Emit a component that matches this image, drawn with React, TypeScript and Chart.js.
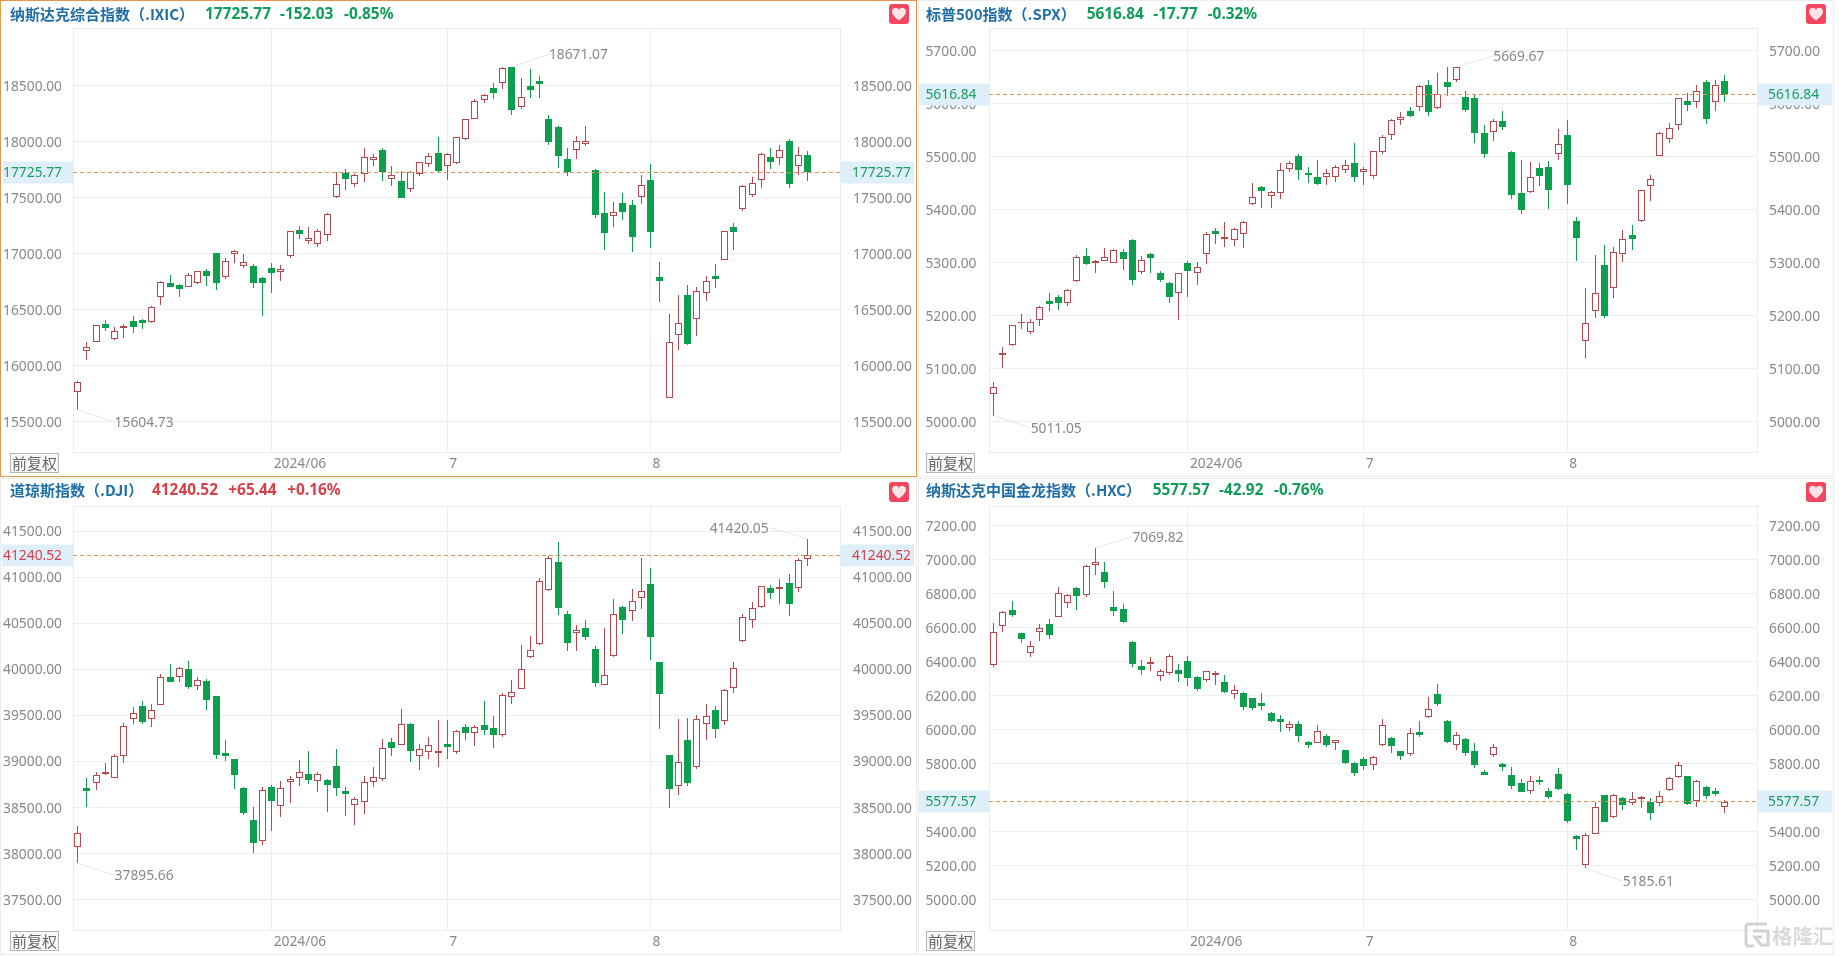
import React, { useEffect, useRef } from "react";
import { Chart, registerables } from "chart.js";

Chart.register(...registerables);

const SLOT_COUNT = 83;
const monthTickSlots: Record<number, string> = { 21: "2024/06", 40: "7", 62: "8" };
const slotLabels = Array.from({ length: SLOT_COUNT }, (_, i) => monthTickSlots[i] ?? "");

const ixicOpen = [15762,16134,16214,16369,16235,16333,16396,16405,16393,16610,16741,16717,16705,16741,16842,17003,16795,16994,16887,16890,16783,16869,16833,16982,17208,17116,17089,17164,17506,17723,17625,17708,17839,17926,17670,17646,17580,17711,17798,17896,17780,17813,18021,18205,18375,18476,18521,18667,18313,18494,18542,18199,18131,17842,17929,17982,17747,17360,17339,17449,17435,17503,17658,16792,15714,16271,16631,16414,16646,16801,16946,17238,17396,17521,17655,17860,17851,18006,17780,17878];
const ixicClose = [15851,16164,16363,16333,16307,16351,16348,16384,16521,16750,16705,16688,16807,16842,16804,16741,16932,17027,16929,16741,16741,16830,16860,17199,17176,17137,17202,17351,17619,17670,17699,17860,17866,17726,17699,17500,17726,17815,17869,17738,17890,18042,18199,18360,18414,18435,18655,18286,18402,18464,18518,17997,17875,17726,18009,18003,17345,17188,17369,17372,17149,17610,17193,16756,16208,16378,16193,16664,16753,16777,17199,17196,17601,17634,17887,17821,17923,17625,17884,17725.77];
const ixicHigh = [15866,16211,16366,16405,16348,16372,16440,16414,16530,16759,16807,16726,16827,16848,16860,17003,16958,17036,16994,16905,16795,16914,16896,17205,17244,17238,17217,17360,17732,17753,17711,17943,17890,17940,17786,17735,17741,17821,17896,18039,17902,18045,18202,18378,18426,18521,18664,18671.07,18568,18646,18583,18235,18137,17940,18051,18140,17756,17548,17461,17539,17476,17699,17801,16929,16461,16631,16717,16699,16798,16905,17205,17271,17610,17682,17896,17940,17967,18021,17952,17914];
const ixicLow = [15604.73,16054,16208,16312,16229,16250,16295,16327,16384,16545,16699,16616,16699,16726,16714,16679,16777,16920,16875,16696,16446,16652,16755,16964,17128,17089,17063,17116,17494,17568,17598,17640,17783,17649,17604,17494,17551,17693,17771,17729,17661,17804,18015,18199,18348,18381,18473,18241,18295,18390,18390,17973,17768,17696,17848,17961,17321,17036,17241,17301,17018,17446,17051,16568,15708,16143,16188,16265,16577,16693,16940,17033,17381,17509,17589,17756,17792,17589,17705,17651];

const spxOpen = [5052,5125,5144,5186,5170,5191,5227,5235,5223,5265,5312,5300,5304,5300,5321,5343,5283,5317,5280,5261,5243,5299,5280,5316,5360,5344,5342,5355,5410,5443,5425,5432,5477,5501,5469,5461,5462,5462,5475,5489,5472,5463,5508,5540,5570,5586,5593,5636,5592,5640,5645,5612,5610,5544,5546,5567,5508,5431,5433,5478,5481,5506,5540,5378,5153,5208,5295,5253,5316,5353,5378,5444,5502,5533,5559,5605,5604,5641,5604,5643];
const spxClose = [5066,5129,5182,5189,5189,5216,5222,5223,5248,5310,5297,5304,5310,5323,5307,5267,5306,5308,5267,5235,5280,5285,5292,5355,5355,5348,5363,5376,5423,5435,5433,5474,5489,5474,5465,5448,5470,5480,5484,5462,5476,5510,5538,5569,5575,5577,5634,5585,5618,5632,5669,5589,5545,5505,5567,5556,5428,5399,5461,5464,5438,5523,5447,5347,5187,5242,5199,5321,5345,5345,5437,5457,5544,5555,5610,5598,5623,5572,5636,5616.84];
const spxHigh = [5075,5141,5183,5203,5193,5218,5243,5239,5251,5314,5328,5306,5328,5325,5325,5344,5313,5318,5284,5264,5281,5304,5301,5357,5365,5377,5366,5378,5450,5445,5435,5489,5491,5506,5480,5494,5476,5484,5493,5526,5481,5511,5541,5572,5585,5593,5636,5645,5657,5669,5669.67,5624,5617,5559,5572,5587,5510,5494,5490,5489,5491,5553,5569,5386,5252,5314,5333,5329,5362,5372,5438,5465,5546,5563,5611,5621,5635,5644,5644,5654];
const spxLow = [5011.05,5101,5143,5175,5166,5181,5209,5211,5218,5264,5296,5281,5303,5299,5287,5258,5279,5281,5264,5223,5192,5235,5258,5298,5336,5330,5332,5328,5409,5403,5404,5421,5472,5456,5451,5447,5447,5453,5469,5453,5447,5458,5506,5532,5560,5575,5587,5577,5590,5615,5640,5585,5525,5498,5530,5551,5421,5392,5431,5445,5401,5494,5411,5304,5121,5195,5196,5234,5302,5324,5377,5416,5501,5526,5550,5586,5592,5562,5586,5603];

const djiOpen = [38076,38718,38772,38866,38823,39065,39467,39598,39467,39616,39913,39913,40000,39815,39870,39710,39098,39033,38717,38370,38141,38724,38522,38783,38826,38870,38793,38801,38957,38685,38533,38565,38783,38812,39217,39181,39406,39065,39109,39098,39196,39102,39370,39315,39402,39359,39283,39696,39790,40138,40272,40866,41163,40598,40399,40446,40217,39833,40141,40674,40630,40772,40928,40080,39069,38739,39239,38942,39409,39565,39442,39804,40304,40533,40674,40881,40873,40938,40880,41199];
const djiClose = [38228,38681,38859,38891,39065,39391,39522,39431,39565,39913,39866,40011,39808,39881,39670,39072,39062,38855,38442,38116,38695,38572,38717,38812,38888,38801,38866,38750,38718,38649,38598,38783,38837,39142,39152,39413,39116,39134,39178,39116,39160,39333,39315,39377,39344,39290,39728,39757,40007,40214,40957,41206,40670,40290,40424,40352,39855,39942,40598,40540,40746,40848,40355,39736,38703,38996,38765,39457,39496,39355,39772,40011,40565,40663,40902,40833,40895,40710,41184,41240.52];
const djiHigh = [38304,38819,38891,38982,39087,39424,39594,39656,39620,39946,40058,40025,40090,39913,39895,39714,39232,39033,38721,38504,38724,38746,38793,38844,39014,39112,38891,38808,39134,38721,38612,38848,38946,39243,39257,39576,39424,39192,39265,39446,39446,39344,39413,39399,39659,39500,39743,39881,40261,40359,40993,41232,41384,40630,40482,40536,40257,40449,40764,40685,40870,41210,41101,40080,39069,39460,39478,39504,39630,39598,39786,40080,40598,40732,40910,40913,40986,41036,41210,41420.05];
const djiLow = [37895.66,38511,38689,38852,38816,38982,39406,39409,39377,39609,39859,39866,39790,39779,39562,39029,39004,38703,38420,38004,38094,38246,38395,38551,38732,38757,38670,38453,38631,38410,38308,38431,38725,38786,39062,39181,38996,38906,39033,38942,39029,39080,39236,39167,39283,39149,39265,39627,39783,40127,40265,40855,40594,40203,40203,40323,39812,39826,40134,40388,40529,40652,40105,39355,38497,38638,38739,38917,39236,39257,39402,39739,40301,40453,40670,40761,40710,40580,40844,41127];

const hxcOpen = [6382,6612,6704,6569,6453,6577,6622,6665,6747,6833,6790,6971,6925,6719,6708,6516,6373,6384,6318,6331,6349,6402,6310,6290,6324,6278,6212,6214,6184,6155,6098,6063,6012,6031,5927,5924,5961,5924,5878,5802,5825,5794,5912,5951,5873,5859,5984,6076,6208,6051,5908,5943,5873,5751,5853,5800,5731,5684,5641,5704,5637,5737,5622,5375,5206,5388,5614,5488,5596,5567,5590,5577,5567,5643,5724,5726,5578,5661,5639,5547];
const hxcClose = [6573,6690,6676,6534,6490,6596,6559,6802,6792,6788,6961,6984,6870,6700,6633,6388,6353,6396,6343,6431,6329,6304,6241,6343,6335,6224,6235,6135,6129,6139,6053,6045,6033,5965,5910,5990,5910,5937,5806,5745,5788,5837,6029,5906,5845,5982,5969,6120,6153,5929,5971,5863,5792,5735,5896,5782,5671,5635,5700,5690,5606,5653,5465,5359,5378,5543,5457,5614,5559,5590,5602,5512,5608,5714,5790,5561,5696,5608,5624,5577.57];
const hxcHigh = [6627,6696,6757,6571,6520,6622,6649,6841,6798,6839,6969,7069.82,6986,6814,6737,6520,6408,6427,6359,6445,6384,6433,6314,6347,6347,6320,6261,6220,6188,6214,6102,6084,6051,6049,5931,6027,5973,5941,5880,5808,5839,5843,6063,5957,5875,6008,6049,6190,6269,6055,5984,5951,5920,5763,5914,5806,5778,5712,5726,5726,5657,5773,5625,5378,5394,5575,5618,5622,5602,5633,5608,5596,5641,5720,5808,5726,5702,5667,5655,5588];
const hxcLow = [6369,6575,6661,6510,6427,6522,6534,6661,6716,6704,6780,6912,6833,6671,6630,6371,6324,6347,6288,6324,6282,6259,6229,6278,6265,6214,6182,6114,6114,6118,6047,5988,5990,5929,5894,5922,5900,5880,5800,5729,5765,5763,5906,5865,5822,5845,5959,6071,6139,5924,5882,5847,5776,5731,5837,5759,5653,5633,5624,5673,5590,5647,5449,5294,5185.61,5384,5455,5478,5527,5559,5539,5469,5553,5641,5716,5555,5547,5590,5608,5510];

const ixicTicks = [15500,16000,16500,17000,17500,18000,18500];
const spxTicks = [5000,5100,5200,5300,5400,5500,5600,5700];
const djiTicks = [37500,38000,38500,39000,39500,40000,40500,41000,41500];
const hxcTicks = [5000,5200,5400,5800,6000,6200,6400,6600,6800,7000,7200];

const RED = "#b5494f";
const GREEN = "#0e9f4e";
const TICK_FONT = { family: '"Noto Sans", sans-serif', size: 13.8 };

type Note = { index: number; value: number; dx: number; dy: number };
type PanelDef = {
  name: string; price: string; change: string; pct: string; up: boolean;
  last: number;
  open: number[]; high: number[]; low: number[]; close: number[];
  ticks: number[]; min: number; max: number;
  notes: Note[];
  frame: { x: number; y: number; w: number; h: number };
  plot: { left: number; right: number; top: number; bottom: number };
  leftPad: number; rightPad: number; clipLeft: boolean;
  titleX: number; priceX: number; changeX: number; pctX: number;
  tagLeft: number; tagRight: number; headerY: number;
};

const panels: PanelDef[] = [
  {
    name: "纳斯达克综合指数（.IXIC）", price: "17725.77", change: "-152.03", pct: "-0.85%", up: false, last: 17725.77,
    open: ixicOpen, high: ixicHigh, low: ixicLow, close: ixicClose,
    ticks: ixicTicks, min: 15229.5, max: 19015,
    notes: [{ index: 0, value: 15604.73, dx: 37, dy: 12 }, { index: 47, value: 18671.07, dx: 37, dy: -12 }],
    frame: { x: 0, y: 0, w: 917, h: 477 }, plot: { left: 73, right: 840, top: 28, bottom: 452 },
    leftPad: 11, rightPad: 13, clipLeft: true,
    titleX: 10, priceX: 205, changeX: 280, pctX: 344, tagLeft: 3, tagRight: 914, headerY: 4,
  },
  {
    name: "标普500指数（.SPX）", price: "5616.84", change: "-17.77", pct: "-0.32%", up: false, last: 5616.84,
    open: spxOpen, high: spxHigh, low: spxLow, close: spxClose,
    ticks: spxTicks, min: 4942.8, max: 5742.8,
    notes: [{ index: 0, value: 5011.05, dx: 37, dy: 12 }, { index: 50, value: 5669.67, dx: 37, dy: -11 }],
    frame: { x: 918, y: 0, w: 916, h: 477 }, plot: { left: 989, right: 1757, top: 28, bottom: 452 },
    leftPad: 12.5, rightPad: 12, clipLeft: false,
    titleX: 926, priceX: 1086.7, changeX: 1153.3, pctX: 1207.7, tagLeft: 919, tagRight: 1832, headerY: 4,
  },
  {
    name: "道琼斯指数（.DJI）", price: "41240.52", change: "+65.44", pct: "+0.16%", up: true, last: 41240.52,
    open: djiOpen, high: djiHigh, low: djiLow, close: djiClose,
    ticks: djiTicks, min: 37171, max: 41774.8,
    notes: [{ index: 0, value: 37895.66, dx: 37, dy: 12 }, { index: 79, value: 41420.05, dx: -38, dy: -11 }],
    frame: { x: 0, y: 478, w: 917, h: 477 }, plot: { left: 73, right: 840, top: 506, bottom: 930 },
    leftPad: 11, rightPad: 13, clipLeft: true,
    titleX: 10, priceX: 152, changeX: 228.3, pctX: 287.3, tagLeft: 2, tagRight: 914, headerY: 480,
  },
  {
    name: "纳斯达克中国金龙指数（.HXC）", price: "5577.57", change: "-42.92", pct: "-0.76%", up: false, last: 5577.57,
    open: hxcOpen, high: hxcHigh, low: hxcLow, close: hxcClose,
    ticks: hxcTicks, min: 4821.8, max: 7315.9,
    notes: [{ index: 11, value: 7069.82, dx: 37, dy: -11 }, { index: 64, value: 5185.61, dx: 37, dy: 13 }],
    frame: { x: 918, y: 478, w: 916, h: 477 }, plot: { left: 989, right: 1757, top: 506, bottom: 930 },
    leftPad: 12.5, rightPad: 12, clipLeft: false,
    titleX: 926, priceX: 1152.7, changeX: 1219, pctX: 1274, tagLeft: 919, tagRight: 1832, headerY: 480,
  },
];

function makeChart(canvas: HTMLCanvasElement, p: PanelDef) {
  const { frame, plot } = p;
  const up = p.open.map((o, i) => p.close[i] >= o);
  const leftW = plot.left - frame.x;
  const rightW = frame.x + frame.w - plot.right;
  const bottomH = frame.y + frame.h - plot.bottom;
  const topH = plot.top - frame.y;
  const priceColor = p.up ? "#d6404a" : "#1a9c62";

  const snap = {
    id: "snap",
    beforeDatasetsDraw(chart: any) {
      chart.data.datasets.forEach((_: any, d: number) => {
        chart.getDatasetMeta(d).data.forEach((el: any) => {
          el.x = Math.floor(el.x) + 0.5;
          el.y = Math.round(el.y);
          el.base = Math.round(el.base);
          if (el.y === el.base) el.base += 1;
        });
      });
    },
  };

  const overlay = {
    id: "overlay",
    beforeDatasetsDraw(chart: any) {
      const a = chart.chartArea;
      const ctx = chart.ctx;
      ctx.save();
      ctx.strokeStyle = "#ececec";
      ctx.lineWidth = 1;
      ctx.strokeRect(Math.round(a.left) + 0.5, Math.round(a.top) + 0.5, Math.round(a.right - a.left), Math.round(a.bottom - a.top));
      ctx.restore();
    },
    afterDraw(chart: any) {
      const a = chart.chartArea;
      const ctx = chart.ctx;
      const ys = chart.scales.y;
      const xs = chart.scales.x;
      const yLast = Math.floor(ys.getPixelForValue(p.last)) + 0.5;
      ctx.save();
      if (p.clipLeft) {
        ctx.fillStyle = "#ffffff";
        ctx.fillRect(61.5, a.top - 12, 11, a.bottom - a.top + 14);
      }
      // price tags
      ctx.fillStyle = "#dfeffa";
      ctx.fillRect(p.tagLeft - frame.x, yLast - 11, a.left - (p.tagLeft - frame.x), 22);
      ctx.fillRect(a.right, yLast - 11, p.tagRight - frame.x - a.right, 22);
      ctx.font = '13.8px "Noto Sans", sans-serif';
      ctx.textBaseline = "middle";
      ctx.fillStyle = priceColor;
      ctx.textAlign = "right";
      ctx.fillText(p.price, a.left - p.leftPad, yLast + 1);
      ctx.textAlign = "left";
      ctx.fillText(p.price, a.right + p.rightPad - 1, yLast + 1);
      // last price line
      ctx.strokeStyle = "#dd9660";
      ctx.lineWidth = 1;
      ctx.setLineDash([4, 3]);
      ctx.beginPath();
      ctx.moveTo(a.left, yLast);
      ctx.lineTo(a.right, yLast);
      ctx.stroke();
      ctx.setLineDash([]);
      // extreme notes
      p.notes.forEach((n) => {
        const x = xs.getPixelForValue(n.index);
        const y = ys.getPixelForValue(n.value);
        const tx = x + n.dx;
        const ty = y + n.dy;
        ctx.strokeStyle = "#e8e8e8";
        ctx.beginPath();
        ctx.moveTo(x, y);
        ctx.lineTo(tx, ty);
        ctx.stroke();
        ctx.fillStyle = "#888888";
        ctx.textAlign = n.dx < 0 ? "right" : "left";
        ctx.fillText(n.value.toFixed(2), tx + (n.dx < 0 ? -1 : 0), ty + 1);
      });
      ctx.restore();
    },
  };

  const yScale = (position: "left" | "right", width: number, pad: number, grid: boolean) => ({
    type: "linear" as const,
    position,
    min: p.min,
    max: p.max,
    afterBuildTicks(axis: any) {
      axis.ticks = p.ticks.map((value) => ({ value }));
    },
    afterFit(axis: any) {
      axis.width = width;
    },
    border: { display: false },
    grid: { display: grid, color: "#eeeeee", drawTicks: false, lineWidth: 1 },
    ticks: {
      autoSkip: false,
      padding: pad,
      labelOffset: 1,
      color: "#888888",
      font: TICK_FONT,
      callback: (v: any) => Number(v).toFixed(2),
    },
  });

  return new Chart(canvas, {
    type: "bar",
    data: {
      labels: slotLabels,
      datasets: [
        {
          label: "body",
          data: p.open.map((o, i) => [o, p.close[i]]),
          grouped: false,
          barThickness: 7,
          borderWidth: 1,
          borderSkipped: false,
          inflateAmount: 0,
          order: 0,
          backgroundColor: up.map((u) => (u ? "#ffffff" : GREEN)),
          borderColor: up.map((u) => (u ? RED : GREEN)),
          yAxisID: "y",
        },
        {
          label: "wick",
          data: p.low.map((l, i) => [l, p.high[i]]),
          grouped: false,
          barThickness: 1,
          borderWidth: 0,
          inflateAmount: 0,
          order: 1,
          backgroundColor: up.map((u) => (u ? RED : GREEN)),
          yAxisID: "y",
        },
      ] as any,
    },
    options: {
      responsive: false,
      animation: false,
      events: [],
      layout: { padding: { top: topH, left: 0, right: 0, bottom: 0 } },
      plugins: { legend: { display: false }, tooltip: { enabled: false }, title: { display: false } },
      scales: {
        x: {
          type: "category",
          offset: true,
          afterFit(axis: any) {
            axis.height = bottomH;
          },
          border: { display: false },
          grid: {
            offset: false,
            drawTicks: false,
            lineWidth: 1,
            color: (ctx: any) => (ctx.tick && ctx.tick.label ? "#eeeeee" : "rgba(0,0,0,0)"),
          },
          ticks: {
            autoSkip: false,
            maxRotation: 0,
            minRotation: 0,
            align: "start",
            labelOffset: 2,
            padding: 4,
            color: "#888888",
            font: TICK_FONT,
          },
        },
        y: yScale("left", leftW, p.leftPad, true),
        y2: yScale("right", rightW, p.rightPad, false),
      } as any,
    },
    plugins: [snap, overlay],
  } as any);
}

function Heart({ x, y }: { x: number; y: number }) {
  return (
    <svg width={20} height={20} viewBox="0 0 20 20" style={{ position: "absolute", left: x, top: y }}>
      <rect width={20} height={20} rx={3} fill="#f2475f" />
      <path d="M10 16.5 C4 12 3 9.5 3 7.5 C3 5 5 3.8 6.8 3.8 C8.2 3.8 9.4 4.6 10 5.8 C10.6 4.6 11.8 3.8 13.2 3.8 C15 3.8 17 5 17 7.5 C17 9.5 16 12 10 16.5 Z" fill="#fbe3e6" />
    </svg>
  );
}

function Panel({ p, index }: { p: PanelDef; index: number }) {
  const ref = useRef<HTMLCanvasElement | null>(null);
  useEffect(() => {
    const chart = makeChart(ref.current as HTMLCanvasElement, p);
    return () => chart.destroy();
  }, [p]);
  const { frame } = p;
  const color = p.up ? "#d6404a" : "#0f9d58";
  const textBase: React.CSSProperties = {
    position: "absolute",
    top: p.headerY,
    lineHeight: "20px",
    whiteSpace: "nowrap",
    fontWeight: 700,
    fontFamily: '"Noto Sans", "Noto Sans CJK SC", sans-serif',
  };
  return (
    <>
      <canvas
        ref={ref}
        width={frame.w}
        height={frame.h}
        style={{ position: "absolute", left: frame.x, top: frame.y, width: frame.w, height: frame.h, display: "block" }}
      />
      <div
        style={{
          position: "absolute", left: frame.x, top: frame.y, width: frame.w, height: frame.h,
          boxSizing: "border-box", border: index === 0 ? "1px solid #e2964e" : "1px solid #ececec", pointerEvents: "none",
        }}
      />
      <div style={{ ...textBase, left: p.titleX, fontSize: 15, color: "#1f6ea6", fontFamily: '"Noto Sans CJK SC", sans-serif' }}>{p.name}</div>
      <div style={{ ...textBase, left: p.priceX, fontSize: 15.4, color }}>{p.price}</div>
      <div style={{ ...textBase, left: p.changeX, fontSize: 15.4, color }}>{p.change}</div>
      <div style={{ ...textBase, left: p.pctX, fontSize: 15.4, color }}>{p.pct}</div>
      <Heart x={frame.x + (index % 2 === 0 ? 889 : 888)} y={frame.y + 4} />
      <div
        style={{
          position: "absolute", left: p.plot.left - 63, top: p.plot.bottom + 1, width: 49, height: 20,
          boxSizing: "border-box", border: "1px solid #b5b5b5", background: "#f7f7f7", color: "#666666",
          fontFamily: '"Noto Sans CJK SC", sans-serif', fontSize: 15, lineHeight: "18px", textAlign: "center",
        }}
      >
        前复权
      </div>
    </>
  );
}

export default function App() {
  useEffect(() => {
    document.body.style.margin = "0";
  }, []);
  return (
    <div style={{ position: "absolute", left: 0, top: 0, width: 1844, height: 956, background: "#ffffff", overflow: "hidden" }}>
      {panels.map((p, i) => (
        <Panel key={p.name} p={p} index={i} />
      ))}
      <svg width={28} height={28} viewBox="0 0 28 28" style={{ position: "absolute", left: 1743, top: 921 }}>
        <path d="M24 3 H6 Q3 3 3 6 V22 Q3 25 6 25 H11 M10 10 H25 V24 H18 L12 16 H19" fill="none" stroke="#d2d2d2" strokeWidth={3} />
      </svg>
      <div
        style={{
          position: "absolute", left: 1772, top: 920, fontFamily: '"Noto Sans CJK SC", sans-serif', fontSize: 20.5,
          lineHeight: "30px", fontWeight: 700, color: "#dadada", whiteSpace: "nowrap",
        }}
      >
        格隆汇
      </div>
    </div>
  );
}
